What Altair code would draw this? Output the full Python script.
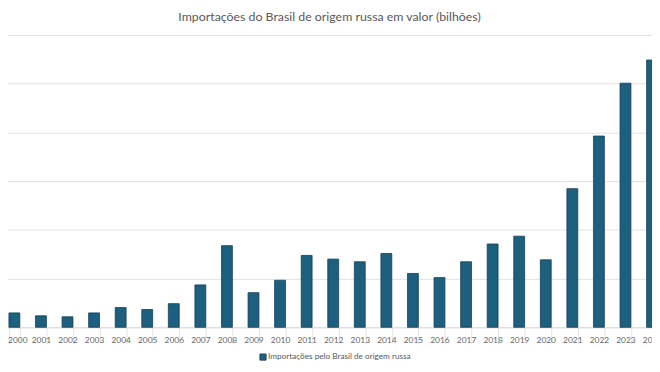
import altair as alt
import pandas as pd

anos = ["2000", "2001", "2002", "2003", "2004", "2005", "2006", "2007", "2008",
        "2009", "2010", "2011", "2012", "2013", "2014", "2015", "2016", "2017",
        "2018", "2019", "2020", "2021", "2022", "2023", "2024"]
valores = [0.59, 0.47, 0.43, 0.59, 0.81, 0.73, 0.97, 1.74, 3.35,
           1.42, 1.93, 2.95, 2.80, 2.69, 3.03, 2.21, 2.04, 2.69,
           3.42, 3.74, 2.77, 5.69, 7.85, 10.02, 10.97]
serie = "Importações pelo Brasil de origem russa"
grade = [0, 2, 4, 6, 8, 10, 12]

df = pd.DataFrame({"ano": anos, "valor": valores, "serie": [serie] * len(anos)})

FONT = "Lato"
GRAY = "#595959"

chart = alt.Chart(df).mark_bar(stroke="#173f54", strokeWidth=0.8).encode(
    x=alt.X(
        "ano:N", sort=anos,
        scale=alt.Scale(range=[-7, 665.5], paddingInner=0.59, paddingOuter=0.295),
        axis=alt.Axis(title=None, labelAngle=0, labelFontSize=8.5, labelColor="#666666",
                      labelFont=FONT, tickBand="extent", tickSize=17,
                      tickColor="#e3e3e3", domainColor="#d9d9d9", labelPadding=-9,
                      labelOffset={"condition": {"test": "datum.value == '2000'", "value": 3},
                                   "value": 0},
                      labelOverlap=False, labelFlush=False, grid=False),
    ),
    y=alt.Y(
        "valor:Q",
        scale=alt.Scale(domain=[0, 12], nice=False),
        axis=alt.Axis(title=None, labels=False, ticks=False, domain=False,
                      values=grade, gridColor="#e3e3e3"),
    ),
    color=alt.Color(
        "serie:N",
        scale=alt.Scale(range=["#1c5f7e"]),
        legend=alt.Legend(title=None, orient="none", legendX=254, legendY=322,
                          symbolType="square", symbolSize=40, labelFontSize=8.3,
                          labelColor=GRAY, labelFont=FONT, symbolStrokeColor="#173f54",
                          symbolStrokeWidth=0.8, labelOffset=1),
    ),
).properties(
    width=652,
    height=296,
    title=alt.TitleParams(
        "Importações do Brasil de origem russa em valor (bilhões)",
        fontSize=12.5, color=GRAY, fontWeight="normal", font=FONT,
        anchor="middle", offset=12, dx=-0.5,
    ),
    autosize="none",
    padding={"top": 25, "left": 0, "right": 0, "bottom": 43},
).configure_view(strokeWidth=0)

chart.save("out.html", embed_options={"renderer": "svg", "actions": False})
